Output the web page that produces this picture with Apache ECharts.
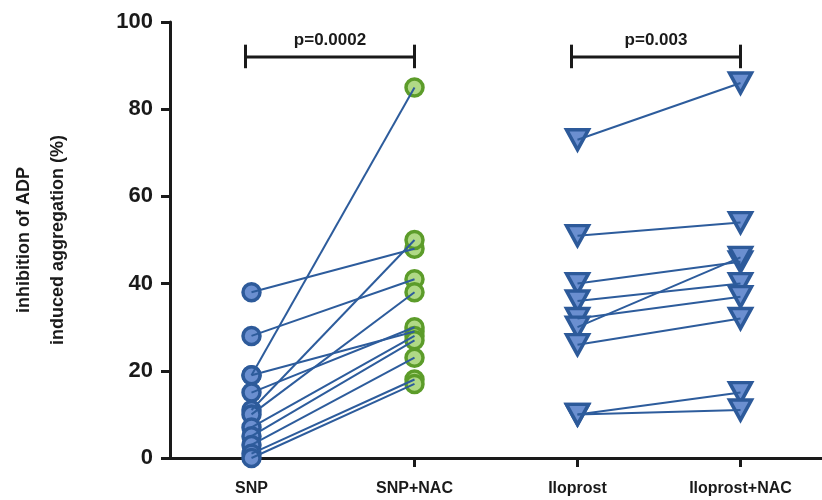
<!DOCTYPE html>
<html>
<head>
<meta charset="utf-8">
<script src="https://cdn.jsdelivr.net/npm/echarts@6/dist/echarts.min.js"></script>
<style>
html,body{margin:0;padding:0;background:#fff;}
#chart{width:822px;height:500px;}
</style>
</head>
<body>
<div id="chart"></div>
<script>
// Categories
var categories = ['SNP', 'SNP+NAC', 'Iloprost', 'Iloprost+NAC'];
// Paired values (each index is one subject)
var snp      = [38, 28, 19, 19, 15, 11, 10, 7, 5, 3, 1, 0];
var snpNac   = [48, 41, 85, 29, 30, 50, 38, 28, 27, 23, 18, 17];
var ilo      = [73, 51, 40, 36, 32, 30, 26, 10, 10];
var iloNac   = [86, 54, 45, 40, 37, 46, 32, 15, 11];
// Y-axis ticks
var yTicks = [0, 20, 40, 60, 80, 100];
// Annotations
var brackets = [
  {from: 0, to: 1, y: 92, label: 'p=0.0002'},
  {from: 2, to: 3, y: 92, label: 'p=0.003'}
];

var LINE = '#2d5c9c';
var FONT = 'Liberation Sans';
var chart = echarts.init(document.getElementById('chart'));

var series = [];
function pairLines(a, b, ia, ib) {
  for (var i = 0; i < a.length; i++) {
    series.push({
      type: 'line', z: 3, silent: true, showSymbol: false, symbol: 'none',
      lineStyle: {color: LINE, width: 2},
      data: [[ia, a[i]], [ib, b[i]]]
    });
  }
}
function markers(vals, idx, symbol, fill, border, size, rot) {
  series.push({
    type: 'scatter', z: 2, silent: true, symbol: symbol, symbolSize: size,
    symbolRotate: rot || 0,
    itemStyle: {color: fill, borderColor: border, borderWidth: 3.5, opacity: 1},
    data: vals.map(function (v) { return [idx, v]; })
  });
}
markers(snp, 0, 'circle', '#6b8fd0', '#2d5a9a', 17);
markers(snpNac, 1, 'circle', '#b0d986', '#5c9c2a', 17);
markers(ilo, 2, 'triangle', '#6b8fd0', '#2d5a9a', [22, 20], 180);
markers(iloNac, 3, 'triangle', '#6b8fd0', '#2d5a9a', [22, 20], 180);
pairLines(snp, snpNac, 0, 1);
pairLines(ilo, iloNac, 2, 3);

chart.setOption({
  animation: false,
  backgroundColor: '#fff',
  grid: {left: 170, right: 0, top: 22, bottom: 42, containLabel: false, outerBoundsMode: 'none'},
  xAxis: {
    type: 'category', data: categories, boundaryGap: true,
    axisLine: {lineStyle: {color: '#1a1a1a', width: 3}},
    axisTick: {show: true, alignWithLabel: true, length: 9, lineStyle: {color: '#1a1a1a', width: 3}},
    axisLabel: {color: '#1a1a1a', fontFamily: FONT, fontWeight: 'bold', fontSize: 16, margin: 23}
  },
  yAxis: {
    type: 'value', min: yTicks[0], max: yTicks[yTicks.length - 1], interval: 20,
    name: 'inhibition of ADP\ninduced aggregation (%)',
    nameLocation: 'middle', nameGap: 95, nameRotate: 90,
    nameTextStyle: {color: '#1a1a1a', fontFamily: FONT, fontWeight: 'bold', fontSize: 18, lineHeight: 34},
    axisLine: {show: true, lineStyle: {color: '#1a1a1a', width: 3}},
    axisTick: {show: true, length: 9, lineStyle: {color: '#1a1a1a', width: 3}},
    splitLine: {show: false},
    axisLabel: {color: '#1a1a1a', fontFamily: FONT, fontWeight: 'bold', fontSize: 22, margin: 17}
  },
  series: series
});

// Significance brackets positioned through the chart's own scales
var g = [];
brackets.forEach(function (b) {
  var p1 = chart.convertToPixel({gridIndex: 0}, [b.from, b.y]);
  var p2 = chart.convertToPixel({gridIndex: 0}, [b.to, b.y]);
  var top = chart.convertToPixel({gridIndex: 0}, [b.from, b.y + 2.8])[1];
  var bot = chart.convertToPixel({gridIndex: 0}, [b.from, b.y - 2.6])[1];
  var x1 = p1[0] - 6, x2 = p2[0];
  var style = {stroke: '#1a1a1a', lineWidth: 3};
  g.push({type: 'line', shape: {x1: x1, y1: p1[1], x2: x2, y2: p1[1]}, style: style});
  g.push({type: 'line', shape: {x1: x1, y1: top, x2: x1, y2: bot}, style: style});
  g.push({type: 'line', shape: {x1: x2, y1: top, x2: x2, y2: bot}, style: style});
  g.push({type: 'text', x: (x1 + x2) / 2, y: p1[1] - 8,
    style: {text: b.label, fill: '#1a1a1a', font: 'bold 17px "' + FONT + '"', align: 'center', verticalAlign: 'bottom'}});
});
chart.setOption({graphic: g});
</script>
</body>
</html>
